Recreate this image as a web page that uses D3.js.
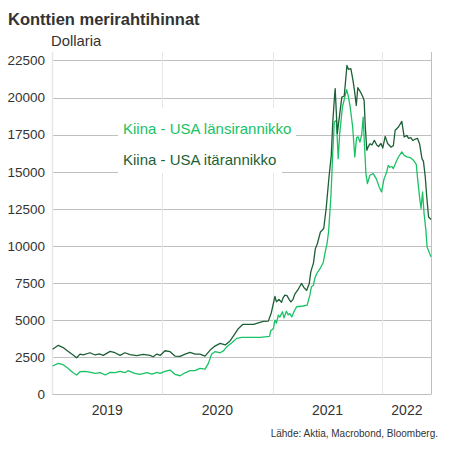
<!DOCTYPE html>
<html><head><meta charset="utf-8">
<script src="https://cdn.jsdelivr.net/npm/d3@7"></script>
<style>
html,body{margin:0;padding:0;background:#fff;}
svg{display:block;font-family:"Liberation Sans",Arial,sans-serif;}
</style></head>
<body><svg id="c" width="450" height="450"></svg>
<script>
const title = "Konttien merirahtihinnat";
const unitLabel = "Dollaria";
const source = "Lähde: Aktia, Macrobond, Bloomberg.";
const seriesNames = ["Kiina - USA länsirannikko", "Kiina - USA itärannikko"];
const yTicks = [0,2500,5000,7500,10000,12500,15000,17500,20000,22500];
const years = [2019,2020,2021,2022];
const domainStart = "2019-01-01", domainEnd = "2022-06-12";

// Kiina - USA itärannikko (dark)
const eastDates = ["2019-01-02","2019-01-21","2019-02-06","2019-02-22","2019-03-11","2019-03-23","2019-04-03","2019-04-14","2019-05-06","2019-05-23","2019-06-06","2019-06-19","2019-07-12","2019-07-28","2019-08-14","2019-08-30","2019-09-16","2019-10-08","2019-10-30","2019-11-21","2019-12-02","2019-12-14","2019-12-25",
"2020-01-10","2020-01-27","2020-02-12","2020-02-29","2020-03-17","2020-04-02","2020-04-19","2020-05-05","2020-05-22","2020-06-08","2020-06-24","2020-07-11","2020-07-28","2020-08-13","2020-08-24","2020-09-10","2020-09-24","2020-10-13","2020-10-30","2020-11-15","2020-12-02","2020-12-18","2020-12-28",
"2021-01-09","2021-01-14","2021-01-22","2021-01-31","2021-02-05","2021-02-11","2021-02-18","2021-02-25","2021-03-03","2021-03-10","2021-03-16","2021-03-27","2021-04-07","2021-04-15","2021-04-24","2021-05-03","2021-05-08","2021-05-17","2021-05-23","2021-05-30","2021-06-09","2021-06-20","2021-06-28","2021-07-07","2021-07-15","2021-07-20","2021-07-26","2021-07-28","2021-08-04","2021-08-19","2021-08-27","2021-09-05","2021-09-10","2021-09-18","2021-09-25","2021-09-30","2021-10-06","2021-10-11","2021-10-19","2021-10-28","2021-11-01","2021-11-05","2021-11-10","2021-11-15","2021-11-21","2021-11-27","2021-12-05","2021-12-13","2021-12-19","2021-12-27",
"2022-01-02","2022-01-10","2022-01-18","2022-01-29","2022-02-06","2022-02-12","2022-02-23","2022-03-06","2022-03-14","2022-03-23","2022-03-28","2022-04-05","2022-04-12","2022-04-20","2022-04-27","2022-05-04","2022-05-12","2022-05-17","2022-05-23","2022-05-28","2022-06-03","2022-06-11"];
const eastValues = [3030,3300,3150,2900,2650,2460,2710,2650,2800,2650,2720,2620,2890,2800,2620,2800,2670,2600,2690,2620,2530,2710,2620,
2935,2870,2577,2550,2710,2825,2710,2710,2577,2980,3250,3430,3330,3600,3924,4440,4710,4710,4710,4820,4910,4930,5500,
6600,6230,6400,6200,6500,6680,6650,6400,6230,6400,6750,7065,7470,7200,7000,7470,8250,8860,9800,10160,10940,11170,12520,14540,16100,18350,20140,20600,17570,20030,20100,22160,21900,21940,21150,20480,19470,20660,20400,20030,19800,18010,16440,16700,16890,16800,17110,16800,16700,16900,
16600,17380,16900,16660,16750,17790,18010,18390,17340,17450,17250,17300,17100,17200,17250,16890,15880,15700,14640,13300,11950,11780];

// Kiina - USA länsirannikko (light)
const westDates = ["2019-01-02","2019-01-21","2019-02-06","2019-02-22","2019-03-11","2019-03-23","2019-04-03","2019-04-19","2019-05-06","2019-05-23","2019-06-09","2019-06-26","2019-07-12","2019-07-28","2019-08-14","2019-08-30","2019-09-09","2019-10-02","2019-10-19","2019-11-11","2019-11-28","2019-12-15","2019-12-25",
"2020-01-10","2020-01-27","2020-02-12","2020-02-29","2020-03-17","2020-04-02","2020-04-19","2020-05-05","2020-05-22","2020-06-02","2020-06-13","2020-06-24","2020-07-11","2020-07-22","2020-08-02","2020-08-19","2020-09-04","2020-09-21","2020-11-21","2020-12-22","2020-12-26",
"2021-01-04","2021-01-09","2021-01-14","2021-01-20","2021-01-25","2021-02-03","2021-02-08","2021-02-16","2021-02-22","2021-02-27","2021-03-06","2021-03-13","2021-03-22","2021-04-13","2021-04-26","2021-05-05","2021-05-10","2021-05-17","2021-05-21","2021-05-28","2021-06-08","2021-06-18","2021-06-25","2021-07-01","2021-07-06","2021-07-14","2021-07-20","2021-07-25","2021-08-01","2021-08-07","2021-08-12","2021-08-21","2021-08-29","2021-09-04","2021-09-09","2021-09-15","2021-09-24","2021-10-01","2021-10-07","2021-10-12","2021-10-18","2021-10-24","2021-10-29","2021-11-01","2021-11-07","2021-11-12","2021-11-20","2021-12-01","2021-12-12","2021-12-21","2021-12-29",
"2022-01-06","2022-01-15","2022-01-20","2022-01-25","2022-02-01","2022-02-06","2022-02-15","2022-02-23","2022-03-06","2022-03-14","2022-03-23","2022-04-03","2022-04-14","2022-04-23","2022-04-27","2022-05-04","2022-05-09","2022-05-14","2022-05-19","2022-05-25","2022-05-29","2022-06-11"];
const westValues = [1905,2086,1995,1750,1455,1300,1520,1545,1500,1410,1455,1300,1475,1455,1545,1455,1590,1410,1345,1455,1365,1475,1410,
1545,1635,1345,1250,1450,1590,1590,1750,1700,2086,2712,2870,2800,2930,3200,3470,3770,3835,3835,3900,4280,
4440,5000,4800,5340,5200,5560,5150,5600,5350,5450,5220,5560,5900,5950,6010,6680,7240,7350,7800,8140,8480,8860,9600,10160,10940,13410,16330,18350,18460,15880,17570,19360,20030,20530,20140,19470,18010,15990,17300,17350,17000,17500,18680,17300,14870,14200,14760,14870,14500,13970,13640,
14500,14980,15430,15300,15350,15210,15650,15990,16330,16100,16000,15950,15770,15500,14640,13300,12520,13640,12180,11060,9930,9260];

const colors = {west:"#19c265", east:"#1d5f36", text:"#333333", grid:"#bfbfbf", vgrid:"#e6e6e6"};

const parse = d3.timeParse("%Y-%m-%d");
const svg = d3.select("#c");
const x = d3.scaleTime().domain([parse(domainStart), parse(domainEnd)]).range([52.3, 431.3]);
const y = d3.scaleLinear().domain([0, 22500]).range([394.3, 60.4]);
const plotTop = 52;

// horizontal grid
svg.append("g").selectAll("line").data(yTicks).join("line")
  .attr("x1", x.range()[0]).attr("x2", x.range()[1])
  .attr("y1", d => Math.round(y(d)) + 0.5).attr("y2", d => Math.round(y(d)) + 0.5)
  .attr("stroke", colors.grid).attr("stroke-width", 1);

// vertical year lines
svg.append("g").selectAll("line").data(years).join("line")
  .attr("x1", d => Math.round(x(new Date(d,0,1))) + 0.5).attr("x2", d => Math.round(x(new Date(d,0,1))) + 0.5)
  .attr("y1", plotTop).attr("y2", y(0))
  .attr("stroke", colors.vgrid).attr("stroke-width", d => d === years[0] ? 1.5 : 1);
svg.append("line")
  .attr("x1", Math.round(x.range()[1]) + 0.5).attr("x2", Math.round(x.range()[1]) + 0.5)
  .attr("y1", plotTop).attr("y2", y(0))
  .attr("stroke", colors.grid);

// y axis labels
const yAxis = d3.axisLeft(y).tickValues(yTicks).tickSize(0).tickPadding(0).tickFormat(d3.format("d"));
const ya = svg.append("g").attr("transform", "translate(45,0)").call(yAxis);
ya.select(".domain").remove();
ya.selectAll("text").attr("font-size", 13.5).attr("fill", colors.text)
  .attr("font-family", "'Liberation Sans',Arial,sans-serif");

// x year labels (centered in year span)
const xAxisG = svg.append("g");
xAxisG.selectAll("text").data(years).join("text")
  .attr("x", d => {
    const a = Math.max(x(new Date(d,0,1)), x.range()[0]);
    const b = Math.min(x(new Date(d+1,0,1)), x.range()[1]);
    return (a + b) / 2;
  })
  .attr("y", 415).attr("text-anchor", "middle")
  .attr("font-size", 14).attr("fill", colors.text).text(d => d);

// legend boxes
const legend = svg.append("g");
legend.append("rect").attr("x", 118).attr("y", 108).attr("width", 178).attr("height", 38).attr("fill", "#fff");
legend.append("rect").attr("x", 118).attr("y", 146).attr("width", 164).attr("height", 27).attr("fill", "#fff");

// lines
const line = d3.line().x(d => x(d[0])).y(d => y(d[1]));
const west = westDates.map((d,i) => [parse(d), westValues[i]]);
const east = eastDates.map((d,i) => [parse(d), eastValues[i]]);
svg.append("path").datum(west).attr("d", line).attr("fill","none")
  .attr("stroke", colors.west).attr("stroke-width", 1.3).attr("stroke-linejoin","round");
svg.append("path").datum(east).attr("d", line).attr("fill","none")
  .attr("stroke", colors.east).attr("stroke-width", 1.3).attr("stroke-linejoin","round");

legend.append("text").attr("x", 123).attr("y", 134).attr("font-size", 15)
  .attr("fill", colors.west).text(seriesNames[0]);
legend.append("text").attr("x", 123).attr("y", 165).attr("font-size", 15)
  .attr("fill", colors.east).text(seriesNames[1]);

// titles
svg.append("text").attr("x", 8).attr("y", 25).attr("font-size", 16.5).attr("font-weight", "bold")
  .attr("fill", colors.text).text(title);
svg.append("text").attr("x", 51).attr("y", 46).attr("font-size", 14.8)
  .attr("fill", colors.text).text(unitLabel);
svg.append("text").attr("x", 438).attr("y", 437).attr("font-size", 10).attr("text-anchor", "end")
  .attr("fill", colors.text).text(source);
</script></body></html>
